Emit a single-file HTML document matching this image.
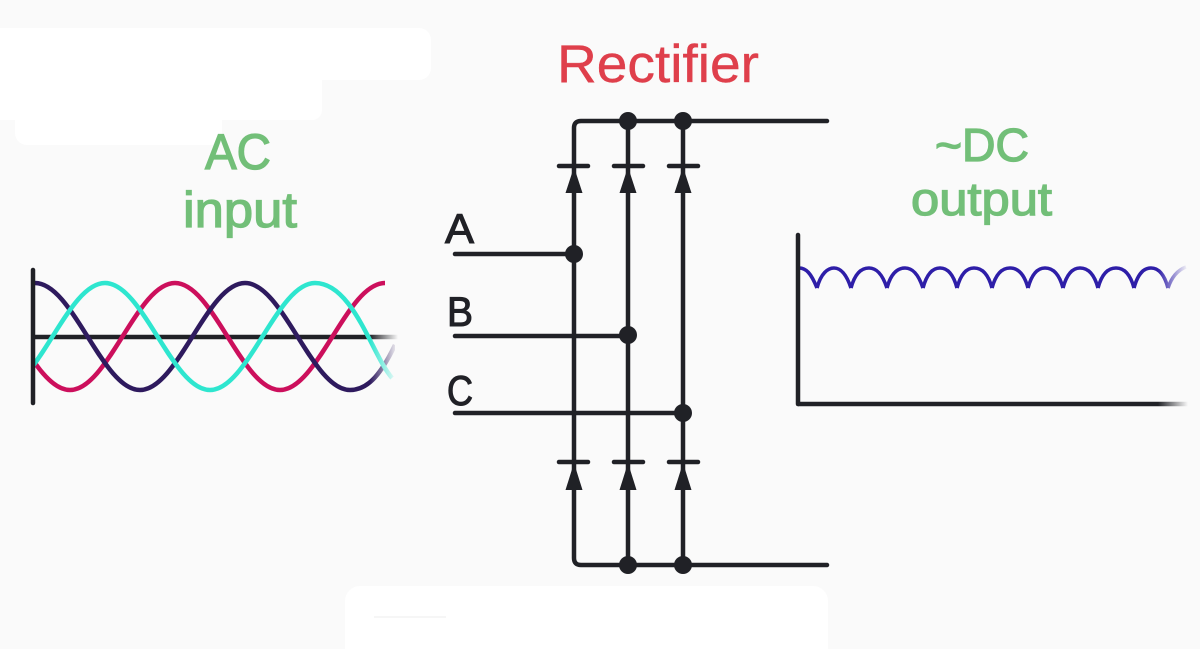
<!DOCTYPE html>
<html lang="en">
<head>
<meta charset="utf-8">
<title>Three-phase rectifier</title>
<style>
html,body{margin:0;padding:0;background:#fafafa;width:1200px;height:649px;overflow:hidden}
svg{display:block}
text{font-family:"Liberation Sans",sans-serif}
.g{fill:#72bf78;stroke:#72bf78;stroke-width:1.3px}
.k{fill:#202126;stroke:#202126;stroke-width:1.1px}
.r{fill:#df3f4b;stroke:#df3f4b;stroke-width:.4px}
</style>
</head>
<body>
<svg width="1200" height="649" viewBox="0 0 1200 649" xmlns="http://www.w3.org/2000/svg">
<defs>
<linearGradient id="fadeL" gradientUnits="userSpaceOnUse" x1="370" y1="0" x2="398" y2="0">
<stop offset="0" stop-color="#fff"/><stop offset="1" stop-color="#000"/>
</linearGradient>
<mask id="maskL" maskUnits="userSpaceOnUse" x="0" y="250" width="420" height="170">
<rect x="0" y="250" width="420" height="170" fill="url(#fadeL)"/>
</mask>
<linearGradient id="fadeR" gradientUnits="userSpaceOnUse" x1="1158" y1="0" x2="1188" y2="0">
<stop offset="0" stop-color="#fff"/><stop offset="1" stop-color="#000"/>
</linearGradient>
<mask id="maskR" maskUnits="userSpaceOnUse" x="780" y="230" width="420" height="190">
<rect x="780" y="230" width="420" height="190" fill="url(#fadeR)"/>
</mask>
<clipPath id="clipL"><rect x="33" y="270" width="352" height="130"/></clipPath>
<clipPath id="clipC"><rect x="33" y="270" width="362" height="130"/></clipPath>
</defs>

<rect width="1200" height="649" fill="#fafafa"/>

<!-- white patches -->
<rect x="-10" y="28" width="441" height="52" rx="12" fill="#fff"/>
<rect x="-10" y="60" width="332" height="60" rx="10" fill="#fff"/>
<rect x="15" y="90" width="207" height="55" rx="12" fill="#fff"/>
<rect x="345" y="586" width="483" height="80" rx="15" fill="#fff"/>
<rect x="374" y="616" width="72" height="2" fill="#f6f6f6"/>

<!-- labels -->
<text class="r" x="557" y="82" font-size="53" textLength="202" lengthAdjust="spacingAndGlyphs">Rectifier</text>
<text class="g" x="205" y="169" font-size="50" textLength="66" lengthAdjust="spacingAndGlyphs">AC</text>
<text class="g" x="183" y="227" font-size="50" textLength="114" lengthAdjust="spacingAndGlyphs">input</text>
<text class="g" x="935" y="161" font-size="46" textLength="94" lengthAdjust="spacingAndGlyphs">~DC</text>
<text class="g" x="911" y="215" font-size="46" textLength="141" lengthAdjust="spacingAndGlyphs">output</text>
<text class="k" x="445" y="243" font-size="42" textLength="29" lengthAdjust="spacingAndGlyphs">A</text>
<text class="k" x="447" y="326" font-size="42" textLength="26" lengthAdjust="spacingAndGlyphs">B</text>
<text class="k" x="447" y="405" font-size="42" textLength="26" lengthAdjust="spacingAndGlyphs">C</text>

<!-- AC graph -->
<g mask="url(#maskL)">
<line x1="33" y1="337" x2="398" y2="337" stroke="#202126" stroke-width="4.5"/>
</g>
<path clip-path="url(#clipL)" fill="none" stroke-width="4.5" stroke="#cc0f5c" d="M-35 283C3 283 32 390 70 390C108 390 137 283 175 283C213 283 242 390 280 390C318 390 347 283 385 283"/>
<g fill="none" stroke-width="4.5" mask="url(#maskL)">
<path clip-path="url(#clipC)" stroke="#2e1a5e" d="M35 283C73 283 102 390 140 390C178 390 207 283 245 283C283 283 312 390 350 390C369 390 382 372 395 345"/>
<path clip-path="url(#clipC)" stroke="#2ee6cf" d="M0 390C38 390 67 283 105 283C143 283 172 390 210 390C248 390 277 283 315 283C353 283 372 355 392 378"/>
</g>
<line x1="33" y1="270" x2="33" y2="403" stroke="#202126" stroke-width="4.5" stroke-linecap="round"/>

<!-- DC graph -->
<g fill="none" stroke="#2e1ea8" stroke-width="3.6" mask="url(#maskR)">
<path d="M799 268C806 268 811 273 817 288"/>
<path d="M817 288C821 273 828 268 834 268C840 268 846 273 851 288"/>
<path d="M851 288C855 273 862 268 869 268C876 268 882 273 887 288"/>
<path d="M887 288C891 273 898 268 905 268C912 268 918 273 923 288"/>
<path d="M923 288C927 273 933 268 940 268C947 268 953 273 957 288"/>
<path d="M957 288C961 273 967 268 974 268C981 268 988 273 992 288"/>
<path d="M992 288C996 273 1003 268 1010 268C1017 268 1024 273 1028 288"/>
<path d="M1028 288C1032 273 1038 268 1045 268C1052 268 1059 273 1063 288"/>
<path d="M1063 288C1067 273 1073 268 1080 268C1087 268 1094 273 1098 288"/>
<path d="M1098 288C1102 273 1109 268 1116 268C1123 268 1130 273 1134 288"/>
<path d="M1134 288C1138 273 1144 268 1151 268C1158 268 1164 273 1168 288"/>
<path d="M1168 288C1172 276 1178 270 1186 267"/>
</g>
<g mask="url(#maskR)">
<line x1="798" y1="404" x2="1188" y2="404" stroke="#202126" stroke-width="4.5"/>
</g>
<line x1="798" y1="235" x2="798" y2="404" stroke="#202126" stroke-width="4.5" stroke-linecap="round"/>

<!-- rectifier circuit -->
<g fill="none" stroke="#202126" stroke-width="4.5" stroke-linecap="round">
<path d="M827 121H581Q574 121 574 128V558Q574 565 581 565H827"/>
<line x1="628" y1="121" x2="628" y2="565"/>
<line x1="683" y1="121" x2="683" y2="565"/>
<line x1="455" y1="254" x2="574" y2="254"/>
<line x1="455" y1="336" x2="628" y2="336"/>
<line x1="455" y1="413" x2="683" y2="413"/>
<line x1="559" y1="166" x2="588" y2="166"/>
<line x1="614" y1="166" x2="643" y2="166"/>
<line x1="669" y1="166" x2="698" y2="166"/>
<line x1="559" y1="462" x2="588" y2="462"/>
<line x1="614" y1="462" x2="643" y2="462"/>
<line x1="669" y1="462" x2="698" y2="462"/>
</g>
<g fill="#202126">
<path d="M574 167L582.5 193H565.5Z"/>
<path d="M628 167L636.5 193H619.5Z"/>
<path d="M683 167L691.5 193H674.5Z"/>
<path d="M574 463L582.5 490H565.5Z"/>
<path d="M628 463L636.5 490H619.5Z"/>
<path d="M683 463L691.5 490H674.5Z"/>
<circle cx="628" cy="121" r="9"/>
<circle cx="683" cy="121" r="9"/>
<circle cx="628" cy="565" r="9"/>
<circle cx="683" cy="565" r="9"/>
<circle cx="574" cy="254" r="9"/>
<circle cx="628" cy="335" r="9"/>
<circle cx="683" cy="413" r="9"/>
</g>
</svg>
</body>
</html>
